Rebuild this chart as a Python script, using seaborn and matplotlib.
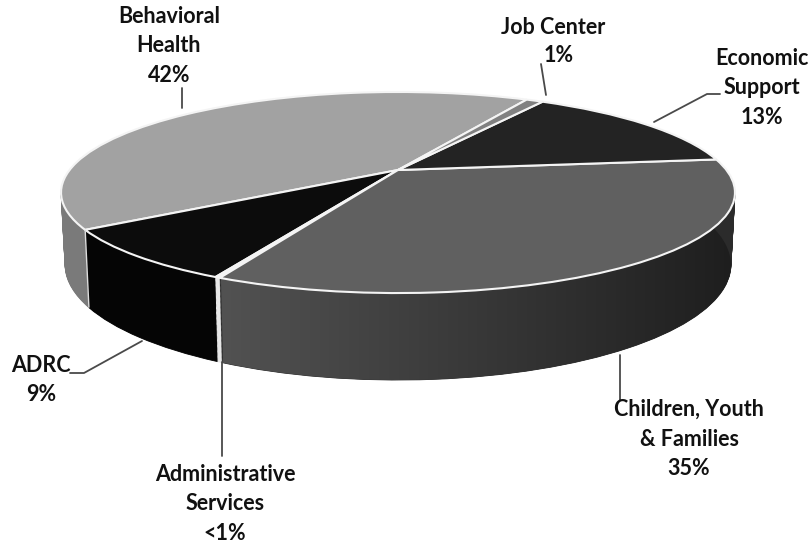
import numpy as np
import matplotlib
matplotlib.use("Agg")
import matplotlib.pyplot as plt
import matplotlib.transforms as mtransforms
from matplotlib.colors import LinearSegmentedColormap
from matplotlib.path import Path
import seaborn as sns

categories = ["Behavioral Health", "ADRC", "Administrative Services",
              "Children, Youth & Families", "Economic Support", "Job Center"]
values = [42, 8.4, 0.2, 33.9, 14.4, 1]
top_colors = ["#a2a2a2", "#0c0c0c", "#f4f4f4", "#606060", "#232323", "#808080"]
side_colors = ["#7a7a7a", "#050505", "#e8e8e8", "#2b2b2b", "#222222", "#555555"]
label_text = ["Behavioral\nHealth\n42%", "ADRC\n9%", "Administrative\nServices\n<1%",
              "Children, Youth\n& Families\n35%", "Economic\nSupport\n13%", "Job Center", "1%"]
label_pos = [(169, 46), (41, 380), (225, 504), (689, 439), (762, 88), (553, 27), (559, 56)]
leaders = [[(182, 88), (182, 108)],
           [(142, 341), (84, 373), (70, 373)],
           [(222, 362), (222, 456)],
           [(620, 355), (620, 400)],
           [(654, 122), (707, 94), (720, 94)],
           [(541, 64), (546, 95)]]
start_angle = 62.0

sns.set_theme(style="white")
plt.rcParams["font.family"] = ["Lato", "DejaVu Sans"]

X0, Y0 = 398.0, 170.0   # apex of the pie on the page
C, A, K = 0.2239, 95.5, 328.4   # projective camera terms
DEPTH = 69.0


class Persp(mtransforms.Transform):
    input_dims = output_dims = 2

    def __init__(self, t=0.0):
        super().__init__()
        self.t = t

    def transform_non_affine(self, values):
        v = np.asarray(values, dtype=float)
        w = 1 + C * v[:, 1]
        sx = 1 - 0.012 * self.t
        sy = 1 + 0.146 * self.t
        px = X0 + sx * K * v[:, 0] / w
        py = Y0 - sy * A * v[:, 1] / w + DEPTH * self.t
        return np.column_stack([px, py])


fig, ax = plt.subplots(figsize=(8.1, 5.45), dpi=100)
fig.subplots_adjust(0, 0, 1, 1)
fig.patch.set_facecolor("white")

for step in range(100, 0, -1):
    t = step / 100
    wedges, _ = ax.pie(values, colors=side_colors, startangle=start_angle,
                       counterclock=True, radius=1,
                       wedgeprops=dict(linewidth=0.6))
    for w in wedges:
        w.set_edgecolor(w.get_facecolor())
        w.set_transform(Persp(t) + ax.transData)

# Shading along the Children, Youth & Families wall
bounds = np.deg2rad(start_angle + np.concatenate([[0], np.cumsum(values)]) / np.sum(values) * 360)
arc = np.linspace(bounds[3] + 0.003, bounds[4], 200)
unit = np.column_stack([np.cos(arc), np.sin(arc)])
wall = np.vstack([Persp(0.0).transform(unit), Persp(1.0).transform(unit)[::-1]])
shade = LinearSegmentedColormap.from_list("wall", ["#525252", "#383838", "#1e1e1e"])
img = ax.imshow(np.linspace(0, 1, 256).reshape(1, -1), cmap=shade, aspect="auto",
                extent=(220, 735, 400, 200), zorder=1)
img.set_clip_path(Path(wall, closed=False), ax.transData)

wedges, _ = ax.pie(values, colors=top_colors, startangle=start_angle,
                   counterclock=True, radius=1,
                   wedgeprops=dict(linewidth=1.5, edgecolor="#f4f4f4"))
for w in wedges:
    w.set_transform(Persp(0.0) + ax.transData)

# Wall seam at the Behavioral / ADRC boundary, derived from the values
unit = np.array([[np.cos(bounds[1]), np.sin(bounds[1])]])
a = Persp(0.0).transform(unit)[0]
b = Persp(1.0).transform(unit)[0]
ax.plot([a[0], b[0]], [a[1], b[1]], color="#dddddd", lw=1.0, solid_capstyle="butt")

ax.set_aspect("auto")
ax.set_xlim(0, 810)
ax.set_ylim(545, 0)
ax.axis("off")

for pts in leaders:
    xs, ys = zip(*pts)
    ax.plot(xs, ys, color="#4a4a4a", lw=1.3, zorder=5)

for txt, (x, y) in zip(label_text, label_pos):
    ax.text(x, y, txt, ha="center", va="center", fontsize=15.5, fontweight="bold",
            color="#111111", linespacing=1.5, zorder=6)

fig.savefig("out.png", dpi=100, facecolor="white")
